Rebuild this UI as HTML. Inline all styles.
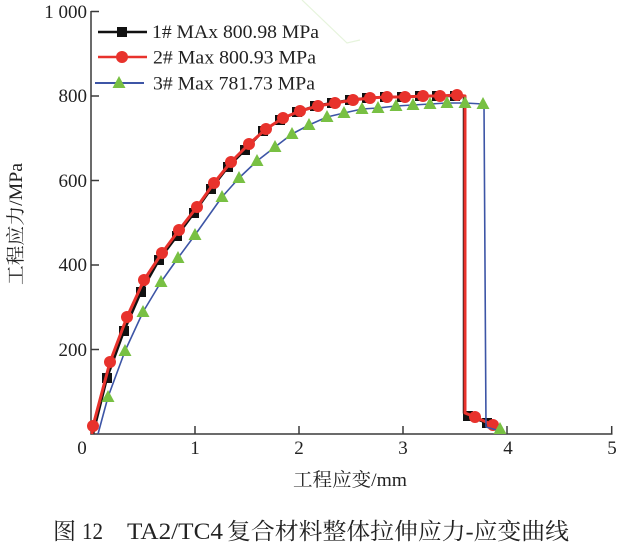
<!DOCTYPE html>
<html>
<head>
<meta charset="utf-8">
<style>
html,body{margin:0;padding:0;background:#fff;}
svg{display:block;}
text{font-family:"Liberation Serif","Noto Serif CJK SC",serif;fill:#222;}
</style>
</head>
<body>
<svg width="619" height="549" viewBox="0 0 619 549" xmlns="http://www.w3.org/2000/svg">
<defs>
  <rect id="sq" x="-5" y="-5" width="10" height="10" fill="#111"/>
  <circle id="ci" r="6" fill="#e8322c"/>
  <polygon id="tr" points="0,-7 -6.5,5 6.5,5" fill="#78c043"/>
</defs>

<!-- faint watermark lines -->
<polyline points="302,0 347,43 360,40" fill="none" stroke="#e6f4dc" stroke-width="1.2"/>

<!-- axes -->
<g stroke="#3a3a3a" stroke-width="1.5" fill="none">
  <line x1="91" y1="11" x2="91" y2="434.5"/>
  <line x1="90.3" y1="434" x2="612.5" y2="434"/>
  <!-- y ticks -->
  <line x1="91" y1="11.5" x2="99" y2="11.5"/>
  <line x1="91" y1="96" x2="99" y2="96"/>
  <line x1="91" y1="180.5" x2="99" y2="180.5"/>
  <line x1="91" y1="265" x2="99" y2="265"/>
  <line x1="91" y1="349.5" x2="99" y2="349.5"/>
  <!-- x ticks -->
  <line x1="195" y1="434" x2="195" y2="426"/>
  <line x1="299" y1="434" x2="299" y2="426"/>
  <line x1="403" y1="434" x2="403" y2="426"/>
  <line x1="507" y1="434" x2="507" y2="426"/>
  <line x1="611.7" y1="434" x2="611.7" y2="426"/>
</g>

<!-- y tick labels -->
<g font-size="19" text-anchor="end">
  <text x="87" y="18">1 000</text>
  <text x="87" y="102">800</text>
  <text x="87" y="187">600</text>
  <text x="87" y="271">400</text>
  <text x="87" y="356">200</text>
</g>
<!-- x tick labels -->
<g font-size="19" text-anchor="middle">
  <text x="82" y="454">0</text>
  <text x="195" y="454">1</text>
  <text x="299" y="454">2</text>
  <text x="403" y="454">3</text>
  <text x="508" y="454">4</text>
  <text x="612" y="454">5</text>
</g>

<!-- axis titles -->
<text x="293" y="486" font-size="19" textLength="114" lengthAdjust="spacingAndGlyphs">工程应变/mm</text>
<text transform="translate(22,224) rotate(-90)" font-size="19" text-anchor="middle" textLength="122" lengthAdjust="spacingAndGlyphs">工程应力/MPa</text>

<!-- Series 1 black -->
<polyline fill="none" stroke="#111" stroke-width="2.5" stroke-linejoin="round"
 points="93,434 107,378 124,331 141,292 159,260 177,236 194,213 211,189 228,167 245,150 263,131 280,120 297,112 315,106 332,103 350,100 367,98 385,97 402,97 420,96 437,96 455,96 464,96 464,413 468,416 487,423 492,425"/>
<g>
  <use href="#sq" x="107" y="378"/><use href="#sq" x="124" y="331"/><use href="#sq" x="141" y="292"/>
  <use href="#sq" x="159" y="260"/><use href="#sq" x="177" y="236"/><use href="#sq" x="194" y="213"/>
  <use href="#sq" x="211" y="189"/><use href="#sq" x="228" y="167"/><use href="#sq" x="245" y="150"/>
  <use href="#sq" x="263" y="131"/><use href="#sq" x="280" y="120"/><use href="#sq" x="297" y="112"/>
  <use href="#sq" x="315" y="106"/><use href="#sq" x="332" y="103"/><use href="#sq" x="350" y="100"/>
  <use href="#sq" x="367" y="98"/><use href="#sq" x="385" y="97"/><use href="#sq" x="402" y="97"/>
  <use href="#sq" x="420" y="96"/><use href="#sq" x="437" y="96"/><use href="#sq" x="455" y="96"/>
  <use href="#sq" x="468" y="416"/><use href="#sq" x="487" y="423"/>
</g>

<!-- Series 2 red -->
<polyline fill="none" stroke="#e8322c" stroke-width="3" stroke-linejoin="round"
 points="92,434 93,426 110,362 127,317 144,280 162,253 179,230 197,207 214,183 231,162 249,144 266,129 283,118 300,111 318,106 335,103 353,100 370,98 387,97 405,97 423,96 440,96 457,95 465,96 465,413 475,417 493,425"/>
<g>
  <use href="#ci" x="93" y="426"/><use href="#ci" x="110" y="362"/><use href="#ci" x="127" y="317"/>
  <use href="#ci" x="144" y="280"/><use href="#ci" x="162" y="253"/><use href="#ci" x="179" y="230"/>
  <use href="#ci" x="197" y="207"/><use href="#ci" x="214" y="183"/><use href="#ci" x="231" y="162"/>
  <use href="#ci" x="249" y="144"/><use href="#ci" x="266" y="129"/><use href="#ci" x="283" y="118"/>
  <use href="#ci" x="300" y="111"/><use href="#ci" x="318" y="106"/><use href="#ci" x="335" y="103"/>
  <use href="#ci" x="353" y="100"/><use href="#ci" x="370" y="98"/><use href="#ci" x="387" y="97"/>
  <use href="#ci" x="405" y="97"/><use href="#ci" x="423" y="96"/><use href="#ci" x="440" y="96"/>
  <use href="#ci" x="457" y="95"/>
  <use href="#ci" x="475" y="417"/><use href="#ci" x="493" y="425"/>
</g>

<!-- Series 3 blue/green -->
<polyline fill="none" stroke="#3d55a6" stroke-width="1.6" stroke-linejoin="round"
 points="98,434 108,397 125,351 143,312 161,282 178,258 195,235 222,197 239,178 257,161 275,147 292,134 309,125 327,117 344,113 362,109 378,108 396,106 413,105 430,104 447,103 465,103 483,104 484,104 486,427 500,431"/>
<g>
  <use href="#tr" x="108" y="397"/><use href="#tr" x="125" y="351"/><use href="#tr" x="143" y="312"/>
  <use href="#tr" x="161" y="282"/><use href="#tr" x="178" y="258"/><use href="#tr" x="195" y="235"/>
  <use href="#tr" x="222" y="197"/><use href="#tr" x="239" y="178"/><use href="#tr" x="257" y="161"/>
  <use href="#tr" x="275" y="147"/><use href="#tr" x="292" y="134"/><use href="#tr" x="309" y="125"/>
  <use href="#tr" x="327" y="117"/><use href="#tr" x="344" y="113"/><use href="#tr" x="362" y="109"/>
  <use href="#tr" x="378" y="108"/><use href="#tr" x="396" y="106"/><use href="#tr" x="413" y="105"/>
  <use href="#tr" x="430" y="104"/><use href="#tr" x="447" y="103"/><use href="#tr" x="465" y="103"/>
  <use href="#tr" x="483" y="104"/><use href="#tr" x="500" y="429"/>
</g>

<!-- legend -->
<line x1="98" y1="32" x2="147" y2="32" stroke="#111" stroke-width="2.5"/>
<use href="#sq" x="122" y="32"/>
<text x="152" y="38" font-size="19" textLength="167" lengthAdjust="spacingAndGlyphs">1# MAx 800.98 MPa</text>

<line x1="98" y1="57" x2="147" y2="57" stroke="#e8322c" stroke-width="2.5"/>
<use href="#ci" x="122" y="57"/>
<text x="153" y="63.5" font-size="19" textLength="163" lengthAdjust="spacingAndGlyphs">2# Max 800.93 MPa</text>

<line x1="95" y1="83" x2="144" y2="83" stroke="#3d55a6" stroke-width="2"/>
<use href="#tr" x="119" y="83"/>
<text x="153" y="89.5" font-size="19" textLength="162" lengthAdjust="spacingAndGlyphs">3# Max 781.73 MPa</text>

<!-- caption -->
<g font-size="23">
  <text x="53" y="539">图</text>
  <text x="82" y="539" textLength="21" lengthAdjust="spacingAndGlyphs">12</text>
  <text x="127" y="539" textLength="96" lengthAdjust="spacingAndGlyphs">TA2/TC4</text>
  <text x="227" y="539" textLength="342" lengthAdjust="spacingAndGlyphs">复合材料整体拉伸应力-应变曲线</text>
</g>
</svg>
</body>
</html>
